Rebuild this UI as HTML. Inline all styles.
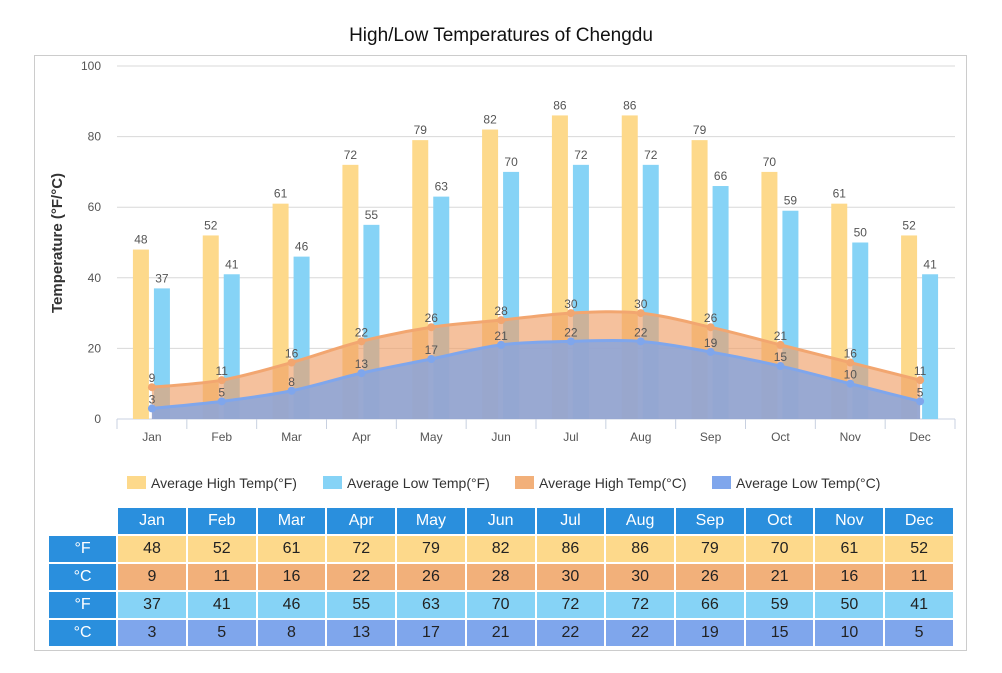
<!DOCTYPE html>
<html><head><meta charset="utf-8"><style>
body{margin:0;background:#fff;width:1002px;height:673px;overflow:hidden;font-family:"Liberation Sans","DejaVu Sans",sans-serif;position:relative}
#title{position:absolute;top:25px;left:0;width:1002px;text-align:center;font-size:19px;color:#111}
#frame{position:absolute;left:34px;top:55px;width:931px;height:594px;border:1px solid #ccc}
table{position:absolute;left:47px;top:506px;border-collapse:separate;border-spacing:2px;font-size:16px;table-layout:fixed;width:908px}
td{height:26px;text-align:center;padding:0;color:#222;overflow:hidden}
td.h{background:#2a8fdd;color:#fff}
td.l{background:#2a8fdd;color:#fff}
</style></head><body>
<div id="title">High/Low Temperatures of Chengdu</div>
<div id="frame"></div>
<svg id="chart" width="1002" height="673" style="position:absolute;left:0;top:0"></svg>
<table id="tbl"></table>
<script>
const months=["Jan","Feb","Mar","Apr","May","Jun","Jul","Aug","Sep","Oct","Nov","Dec"];
const highF=[48,52,61,72,79,82,86,86,79,70,61,52];
const lowF=[37,41,46,55,63,70,72,72,66,59,50,41];
const highC=[9,11,16,22,26,28,30,30,26,21,16,11];
const lowC=[3,5,8,13,17,21,22,22,19,15,10,5];
const yTicks=[0,20,40,60,80,100];
const legendLabels=["Average High Temp(°F)","Average Low Temp(°F)","Average High Temp(°C)","Average Low Temp(°C)"];
const NS="http://www.w3.org/2000/svg";
const svg=document.getElementById('chart');
const X0=117,X1=955,Y0=419,Y1=66;
const cw=(X1-X0)/months.length;
const y=v=>Y0-(v/100)*(Y0-Y1);
const cx=i=>X0+cw*(i+0.5);
function mk(t,a,p){const e=document.createElementNS(NS,t);for(const k in a)e.setAttribute(k,a[k]);(p||svg).appendChild(e);return e;}
yTicks.forEach(t=>{
  const g=mk('line',{x1:X0,x2:X1,y1:y(t),y2:y(t),stroke:t?'#d8d8d8':'#c8d0e0','stroke-width':1});
  
  const tx=mk('text',{x:101,y:y(t)+4,'text-anchor':'end','font-size':12,fill:'#555'});tx.textContent=t;
  
});
const yt=mk('text',{transform:'translate(62,243) rotate(-90)','text-anchor':'middle','font-size':15,'font-weight':'bold',fill:'#333'});
yt.textContent='Temperature (°F/°C)';

months.forEach((m,i)=>{
  const tk=mk('line',{x1:X0+cw*i,x2:X0+cw*i,y1:Y0,y2:Y0+10,stroke:'#c8d0e0'});
  
  const t=mk('text',{x:cx(i),y:Y0+22,'text-anchor':'middle','font-size':12,fill:'#555'});t.textContent=m;
  
});
mk('line',{x1:X1,x2:X1,y1:Y0,y2:Y0+10,stroke:'#c8d0e0'});
function bars(vals,off,col,name){
  vals.forEach((v,i)=>{
    const r=mk('rect',{x:cx(i)+off,y:y(v),width:16,height:Y0-y(v),fill:col});
    
    const t=mk('text',{x:cx(i)+off+8,y:y(v)-6,'text-anchor':'middle','font-size':12,fill:'#555'});t.textContent=v;
    
  });
}
bars(highF,-19,'#fdd98b','bar-high-f');
bars(lowF,2,'#86d3f6','bar-low-f');
function spline(vals){
  const p=vals.map((v,i)=>[cx(i),y(v)]);let d='M'+p[0];
  for(let i=0;i<p.length-1;i++){const a=p[i-1]||p[i],b=p[i],c=p[i+1],e=p[i+2]||c;
    d+=` C${b[0]+(c[0]-a[0])/6},${b[1]+(c[1]-a[1])/6} ${c[0]-(e[0]-b[0])/6},${c[1]-(e[1]-b[1])/6} ${c[0]},${c[1]}`;}
  return d;
}
function area(vals,fill,stroke,name){
  const d=spline(vals);
  const a=mk('path',{d:d+` L${cx(vals.length-1)},${Y0} L${cx(0)},${Y0} Z`,fill:fill});
  
  const l=mk('path',{d:d,fill:'none',stroke:stroke,'stroke-width':3});
  
  vals.forEach((v,i)=>{
    const c=mk('circle',{cx:cx(i),cy:y(v),r:4,fill:stroke});
    
    const t=mk('text',{x:cx(i),y:y(v)-5,'text-anchor':'middle','font-size':12,fill:'#555'});t.textContent=v;
    
  });
}
area(highC,'rgba(240,160,105,0.65)','#f2a670','high-c');
area(lowC,'rgba(140,165,218,0.88)','#7fa6ec','low-c');
const lc=['#fdd98b','#86d3f6','#f2b07a','#7fa6ec'];const lx=[127,323,515,712];
legendLabels.forEach((s,i)=>{
  const r=mk('rect',{x:lx[i],y:476,width:19,height:13,fill:lc[i]});
  
  const t=mk('text',{x:lx[i]+24,y:488,'font-size':14,fill:'#333'});t.textContent=s;
  
});
const tbl=document.getElementById('tbl');
let h='<colgroup><col style="width:67px">'+months.map(()=>'<col style="width:67.6px">').join('')+'</colgroup>';
h+='<tr><td style="background:none"></td>'+months.map(m=>`<td class="h">${m}</td>`).join('')+'</tr>';
[[highF,'°F','#fdd98b'],[highC,'°C','#f2b07a'],[lowF,'°F','#86d3f6'],[lowC,'°C','#7fa6ec']].forEach(([v,u,c])=>{
  h+=`<tr><td class="l">${u}</td>`+v.map(x=>`<td style="background:${c}">${x}</td>`).join('')+'</tr>';
});
tbl.innerHTML=h;
</script>
</body></html>
